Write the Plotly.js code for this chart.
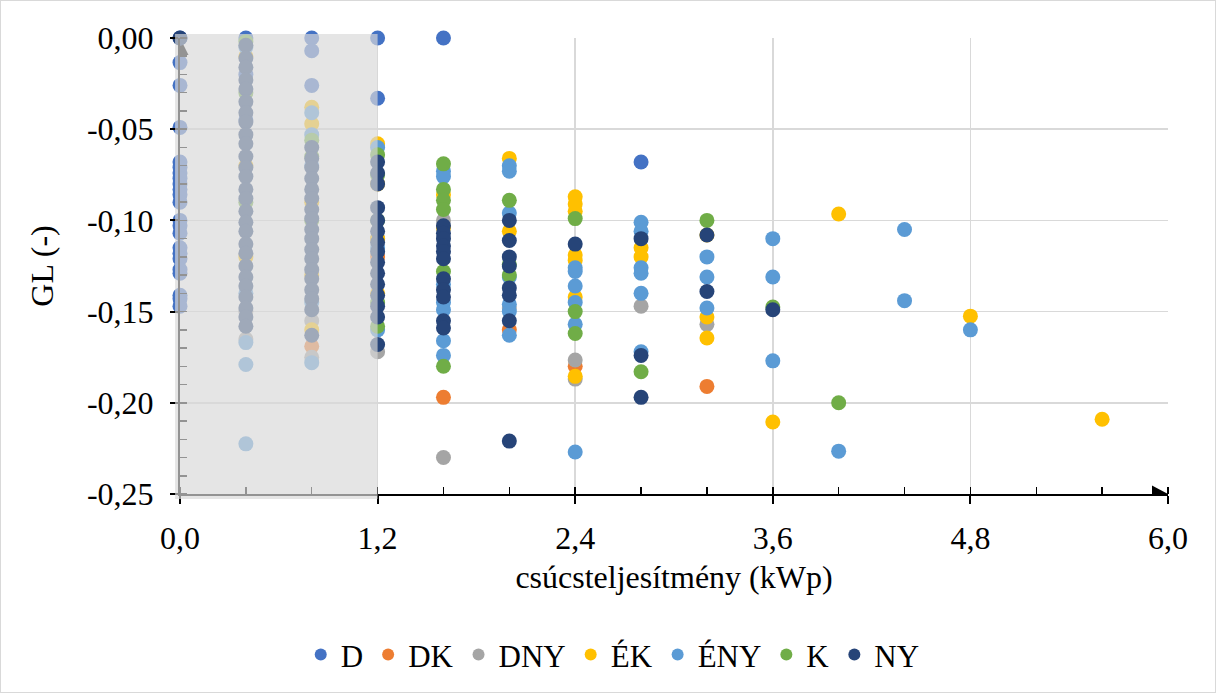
<!DOCTYPE html>
<html>
<head>
<meta charset="utf-8">
<script src="https://cdn.plot.ly/plotly-3.0.1.min.js"></script>
<style>
  html, body { margin: 0; padding: 0; background: #fff; }
  #chart { position: absolute; left: 0; top: 0; width: 1216px; height: 693px;
           box-sizing: border-box; border: 1px solid #d9d9d9; }
</style>
</head>
<body>
<div id="chart"></div>
<script>
// Orientation groups and their colours
const seriesNames = ['D', 'DK', 'DNY', 'ÉK', 'ÉNY', 'K', 'NY'];
const seriesColors = ['#4472C4', '#ED7D31', '#A5A5A5', '#FFC000', '#5B9BD5', '#70AD47', '#264478'];

// GL values per peak power (kWp) for each orientation: [kWp, [GL, ...]]
const D_data = [
  [0.0, [0, -0.0135, -0.026, -0.049, -0.068, -0.071, -0.074, -0.077, -0.080, -0.083, -0.086, -0.090,
         -0.100, -0.103, -0.107, -0.115, -0.118, -0.121, -0.127, -0.129, -0.141, -0.143, -0.147]],
  [0.4, [0, -0.020, -0.045]],
  [0.8, [0, -0.007, -0.026]],
  [1.2, [0, -0.033]],
  [1.6, [0]],
  [2.8, [-0.068]]
];
const DK_data = [
  [0.8, [-0.169]],
  [1.2, [-0.120]],
  [1.6, [-0.197]],
  [2.0, [-0.160]],
  [2.4, [-0.180]],
  [3.2, [-0.191]]
];
const DNY_data = [
  [0.4, [-0.150, -0.165]],
  [0.8, [-0.155, -0.175]],
  [1.2, [-0.110, -0.172]],
  [1.6, [-0.100, -0.230]],
  [2.0, [-0.148]],
  [2.4, [-0.1765, -0.187]],
  [2.8, [-0.147]],
  [3.2, [-0.157]]
];
const EK_data = [
  [0.4, [-0.010, -0.070, -0.120]],
  [0.8, [-0.038, -0.047, -0.090, -0.130, -0.160]],
  [1.2, [-0.058, -0.080, -0.110, -0.140]],
  [1.6, [-0.086, -0.104]],
  [2.0, [-0.066, -0.106]],
  [2.4, [-0.087, -0.091, -0.095, -0.119, -0.122, -0.142, -0.1855]],
  [2.8, [-0.115, -0.120]],
  [3.2, [-0.108, -0.153, -0.1645]],
  [3.6, [-0.2105]],
  [4.0, [-0.0965]],
  [4.8, [-0.1525]],
  [5.6, [-0.209]]
];
const ENY_data = [
  [0.4, [-0.005, -0.140, -0.167, -0.179, -0.2225]],
  [0.8, [-0.041, -0.053, -0.070, -0.145, -0.178]],
  [1.2, [-0.060, -0.115, -0.160]],
  [1.6, [-0.073, -0.076, -0.135, -0.145, -0.149, -0.166, -0.174]],
  [2.0, [-0.070, -0.073, -0.096, -0.131, -0.146, -0.150, -0.163]],
  [2.4, [-0.126, -0.128, -0.136, -0.145, -0.157, -0.227]],
  [2.8, [-0.101, -0.106, -0.126, -0.129, -0.140, -0.172]],
  [3.2, [-0.120, -0.131, -0.148]],
  [3.6, [-0.110, -0.131, -0.177]],
  [4.0, [-0.2265]],
  [4.4, [-0.105, -0.144]],
  [4.8, [-0.160]]
];
const K_data = [
  [0.4, [-0.002, -0.030, -0.090]],
  [0.8, [-0.056, -0.065, -0.100]],
  [1.2, [-0.064, -0.075, -0.100, -0.145, -0.158]],
  [1.6, [-0.069, -0.083, -0.089, -0.094, -0.128, -0.180]],
  [2.0, [-0.089, -0.124, -0.130]],
  [2.4, [-0.099, -0.150, -0.162]],
  [2.8, [-0.183]],
  [3.2, [-0.100]],
  [3.6, [-0.1475]],
  [4.0, [-0.200]]
];
const NY_data = [
  [0.0, [0]],
  [0.4, [-0.004, -0.011, -0.016, -0.023, -0.028, -0.035, -0.041, -0.046, -0.053, -0.058, -0.065,
         -0.071, -0.076, -0.083, -0.088, -0.095, -0.101, -0.106, -0.113, -0.118, -0.125, -0.131,
         -0.136, -0.142, -0.148, -0.153, -0.158]],
  [0.8, [-0.060, -0.066, -0.071, -0.077, -0.083, -0.088, -0.094, -0.099, -0.105, -0.110, -0.116,
         -0.121, -0.127, -0.132, -0.138, -0.143, -0.149, -0.163]],
  [1.2, [-0.068, -0.074, -0.080, -0.093, -0.100, -0.106, -0.112, -0.117, -0.123, -0.129, -0.135,
         -0.141, -0.147, -0.153, -0.168]],
  [1.6, [-0.103, -0.107, -0.110, -0.114, -0.117, -0.121, -0.132, -0.138, -0.142, -0.155, -0.159]],
  [2.0, [-0.100, -0.111, -0.120, -0.125, -0.137, -0.141, -0.155, -0.221]],
  [2.4, [-0.113]],
  [2.8, [-0.110, -0.174, -0.197]],
  [3.2, [-0.108, -0.139]],
  [3.6, [-0.149]]
];
const allData = [D_data, DK_data, DNY_data, EK_data, ENY_data, K_data, NY_data];

// Axis ticks (decimal comma, plain hyphen)
const xTickVals = [0, 1.2, 2.4, 3.6, 4.8, 6.0];
const xTickText = ['0,0', '1,2', '2,4', '3,6', '4,8', '6,0'];
const yTickVals = [0, -0.05, -0.10, -0.15, -0.20, -0.25];
const yTickText = ['0,00', '-0,05', '-0,10', '-0,15', '-0,20', '-0,25'];

const FONT = '"Liberation Serif", "Times New Roman", serif';

function flatten(cols) {
  const x = [], y = [];
  cols.forEach(([kwp, vals]) => vals.forEach(v => { x.push(kwp); y.push(v); }));
  return { x, y };
}

const traces = seriesNames.map((name, i) => {
  const p = flatten(allData[i]);
  return {
    type: 'scatter', mode: 'markers', name: name,
    x: p.x, y: p.y, cliponaxis: false,
    marker: { color: seriesColors[i], size: 15, line: { width: 0 } },
    hoverinfo: 'x+y+name'
  };
});

const layout = {
  width: 1214, height: 691,
  margin: { l: 179, r: 47, t: 37, b: 197 },
  paper_bgcolor: '#ffffff', plot_bgcolor: '#ffffff',
  font: { family: FONT, color: '#000000', size: 32 },
  showlegend: true,
  legend: {
    orientation: 'h', x: 0.438, xanchor: 'center', y: -0.35, yanchor: 'middle',
    font: { family: FONT, size: 31, color: '#000' }, itemsizing: 'constant',
    bgcolor: 'rgba(0,0,0,0)'
  },
  xaxis: {
    range: [0, 6], tickmode: 'array', tickvals: xTickVals, ticktext: xTickText,
    ticks: 'outside', ticklen: 8, tickwidth: 2, tickcolor: '#000',
    showline: true, linecolor: '#000', linewidth: 2,
    showgrid: true, gridcolor: '#d9d9d9', gridwidth: 1.5, zeroline: false,
    tickfont: { family: FONT, size: 32, color: '#000' },
    ticklabelstandoff: 7,
    minor: { dtick: 0.4, tick0: 0, ticks: 'inside', ticklen: 7, tickwidth: 1.5, tickcolor: '#000', showgrid: false },
    title: { text: 'csúcsteljesítmény (kWp)', font: { family: FONT, size: 32, color: '#000' }, standoff: 10 }
  },
  yaxis: {
    range: [-0.25, 0], tickmode: 'array', tickvals: yTickVals, ticktext: yTickText,
    ticks: 'outside', ticklen: 8, tickwidth: 2, tickcolor: '#000',
    showline: true, linecolor: '#000', linewidth: 2,
    showgrid: true, gridcolor: '#d9d9d9', gridwidth: 1.5, zeroline: false,
    tickfont: { family: FONT, size: 32, color: '#000' },
    ticklabelstandoff: 10,
    minor: { dtick: 0.01, tick0: 0, ticks: 'inside', ticklen: 7, tickwidth: 1.5, tickcolor: '#000', showgrid: false },
    title: { text: 'GL (-)', font: { family: FONT, size: 32, color: '#000' }, standoff: 24 }
  },
  shapes: [
    // arrow heads at the axis ends
    { type: 'path', xref: 'x', yref: 'y', xsizemode: 'pixel', ysizemode: 'pixel',
      xanchor: 6, yanchor: -0.25, path: 'M -16 -8.5 L 0 0 L -16 8.5 Z',
      fillcolor: '#000', line: { width: 0 }, layer: 'above' },
    { type: 'path', xref: 'x', yref: 'y', xsizemode: 'pixel', ysizemode: 'pixel',
      xanchor: 0, yanchor: 0, path: 'M -8.5 -17 L 0 0 L 8.5 -17 Z',
      fillcolor: '#000', line: { width: 0 }, layer: 'between' },
    // shaded band over the 0–1,2 kWp range
    { type: 'rect', xref: 'paper', yref: 'paper', x0: -0.005, x1: 0.2, y0: -0.011, y1: 1.009,
      fillcolor: 'rgba(217,217,217,0.68)', line: { width: 0 }, layer: 'above' }
  ]
};

Plotly.newPlot('chart', traces, layout, { displayModeBar: false, staticPlot: true });
</script>
</body>
</html>
